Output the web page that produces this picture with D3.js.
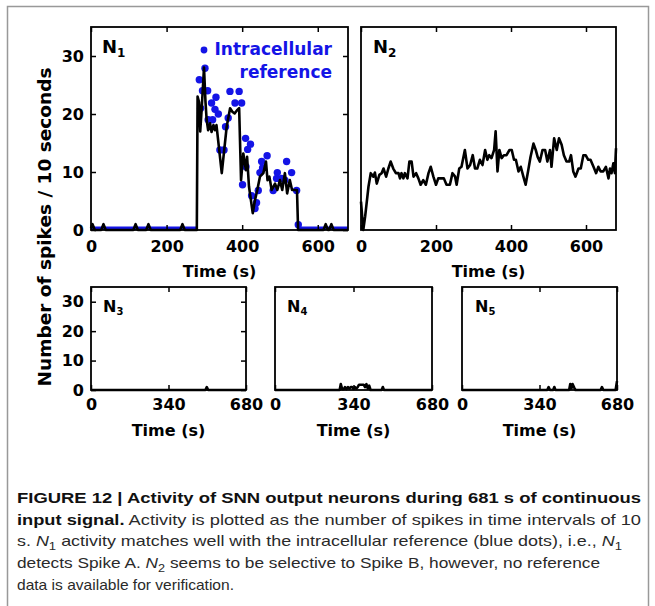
<!DOCTYPE html>
<html lang="en">

<head>
    <meta charset="UTF-8">
    <title>Figure 12 | SNN output neurons</title>
    <style>
        body {
            margin: 0;
            background: #fff;
        }

        svg {
            display: block;
        }

        .axis text {
            font: bold 16px "DejaVu Sans", sans-serif;
            fill: #000;
        }

        .axis line {
            stroke: #000;
            stroke-width: 1.5px;
        }

        .box {
            fill: none;
            stroke: #000;
            stroke-width: 1.8px;
        }

        .trace {
            fill: none;
            stroke: #000;
            stroke-width: 2.6px;
            stroke-linejoin: round;
        }

        .title {
            font: bold 16px "DejaVu Sans", sans-serif;
            text-anchor: middle;
        }

        .nlabel {
            font-family: "DejaVu Sans", sans-serif;
            font-weight: bold;
        }

        .legend {
            font: bold 17px "DejaVu Sans", sans-serif;
            fill: #1414e6;
            text-anchor: end;
        }

        .caption {
            font-family: "Liberation Sans", Arial, sans-serif;
            font-size: 15px;
            fill: #2a2a2a;
        }
    </style>
</head>

<body>
    <script src="https://d3js.org/d3.v7.min.js"></script>
    <script>
        // N1 output neuron, spikes per 10 s window
        const n1Time = [0, 4, 10, 27, 33, 39, 112, 118, 124, 146, 152, 158, 236, 242, 248, 280,
            282, 286, 289, 293, 299, 303, 306, 310, 315, 319, 324, 328, 332, 346, 359, 368, 374, 380,
            386, 392, 397, 403, 410, 413, 418, 428, 434, 440, 447, 456, 463, 467, 472, 478, 487, 493,
            500, 506, 513, 519, 526, 532, 540, 545, 548, 615, 621, 627, 630, 636, 642, 680];
        const n1Count = [0.3, 1, 0, 0, 1, 0, 0, 1, 0, 0, 1, 0, 0, 1, 0, 0,
            23, 22, 17, 21, 28, 22, 19, 17.2, 18.4, 16.9, 18.1, 17.2, 18.1, 9.8, 17.8, 21, 20.4, 20.1,
            20.6, 21, 8.6, 13.2, 10.3, 12.6, 7.5, 2.9, 5.2, 6.9, 9.2, 9.8, 11.8, 8.6, 9.2, 6.9, 8, 6.9,
            8.6, 6.9, 9.8, 6.3, 8.6, 6.9, 6.9, 6.9, 0, 0, 1, 0, 0, 1, 0, 0];

        // intracellular reference (blue dots)
        const refTime = [286.6, 290, 295, 301.6, 308.6, 310, 319, 321.8, 328, 330.7, 336.9, 341,
            351.9, 356, 363, 367.7, 381, 392, 398.6, 401, 409, 410, 414.5, 422, 425, 434, 438, 442.6,
            447, 451.5, 454, 466, 482, 491, 493, 504, 513, 517.6, 530.8, 544, 548.5];
        const refCount = [25.9, 21, 24, 27.9, 24, 19, 21.9, 19, 20.8, 22.9, 20, 13.8,
            13.8, 17.8, 19.3, 23.9, 21.9, 23.9, 21.9, 7.8, 15.8, 10.9, 13.9, 14.8, 5.9, 3.7, 4.7, 6.8,
            9.9, 11.8, 10.7, 12.8, 6.8, 8.9, 9.9, 8.9, 8.6, 11.8, 9.9, 6.8, 0.9];
        // stretches where the reference sits at zero
        const refZeroSpans = [[0, 283], [550, 680]];

        // N2
        const n2Time = [0, 6, 11, 20, 26, 33, 37, 42, 49, 55, 60, 67, 73, 79, 86, 93, 100, 104, 108,
            113, 117, 124, 129, 135, 140, 147, 153, 159, 166, 173, 180, 186, 193, 200, 206, 215, 221,
            228, 237, 244, 251, 255, 262, 268, 277, 284, 291, 298, 304, 310, 317, 324, 331, 337, 342,
            348, 355, 359, 364, 369, 375, 381, 388, 396, 402, 408, 413, 420, 426, 433, 439, 446, 452,
            460, 466, 471, 477, 484, 491, 497, 504, 508, 515, 522, 528, 535, 541, 548, 555, 560, 566,
            572, 580, 586, 593, 599, 606, 612, 620, 627, 633, 639, 646, 653, 660, 664, 668, 673, 677, 680];
        const n2Count = [4.9, 0, 2.3, 7.5, 9.8, 9.2, 9.9, 8, 9.5, 9.8, 10.6, 9.2, 10.6, 11.8, 10.6, 9.8,
            9.8, 8.9, 9.8, 8.9, 9.8, 8.9, 11.8, 11.8, 9.2, 9.8, 8.9, 7.8, 8.6, 7.8, 9.8, 10.9, 9.2, 7.8,
            8.9, 8.9, 8.9, 7.8, 7.8, 9.8, 9.2, 7.8, 10.6, 10.9, 13.8, 10.6, 11.2, 12.9, 10.6, 10.6, 12.1,
            11.2, 13.8, 12.1, 12.9, 12.4, 13.8, 17, 10.1, 13.8, 12.4, 12.9, 12.9, 13.8, 13.8, 12.1, 12.1,
            10.1, 10.9, 9.2, 7.8, 10.3, 12.6, 14.9, 13.8, 12.6, 11.8, 13.8, 13.8, 11.8, 13.8, 10.9, 15.8,
            13.8, 15.8, 14.7, 12.9, 11.8, 11.8, 12.9, 10.1, 9.2, 10.6, 10.6, 12.9, 12.9, 12.1, 12.1, 10.9,
            9.8, 10.9, 10.1, 10.1, 10.9, 8.9, 10.6, 9.8, 11.5, 9.8, 14.1];

        // N3, N4, N5 (almost silent)
        const n3Time = [0, 502, 508, 514, 680];
        const n3Count = [0, 0, 1, 0, 0];
        const n4Time = [0, 280, 285, 291, 298, 303, 309, 316, 322, 328, 334, 340, 346, 352, 358, 364,
            384, 390, 396, 402, 408, 414, 462, 467, 472, 680];
        const n4Count = [0, 0, 2, 0.3, 0.3, 1, 0.3, 1, 0.5, 1, 1, 0.4, 1, 0.5, 1, 1.8,
            1.8, 1, 2, 0.5, 1.5, 0, 0, 1, 0, 0];
        const n5Time = [0, 374, 380, 386, 400, 405, 410, 470, 475, 480, 485, 492, 498, 608, 614, 620, 674, 680];
        const n5Count = [0, 0, 1, 0, 0, 1, 0, 0, 2, 0.5, 2, 0.8, 0, 0, 1, 0, 0, 3];

        const timeTicksTop = [0, 200, 400, 600];
        const timeTicksBottom = [0, 340, 680];
        const countTicks = [0, 10, 20, 30];

        const width = 655;
        const height = 606;
        const blue = "#1414e6";

        const svg = d3.select("body").append("svg")
            .attr("width", width)
            .attr("height", height);

        svg.append("rect")
            .attr("width", width)
            .attr("height", height)
            .attr("fill", "#fff");

        // figure frame
        svg.append("rect")
            .attr("x", 7.5)
            .attr("y", 6.5)
            .attr("width", 641)
            .attr("height", 700)
            .attr("fill", "none")
            .attr("stroke", "#999")
            .attr("stroke-width", 1.5);

        const panels = [
            { n: "1", left: 91, right: 348, top: 27, bottom: 230, time: n1Time, count: n1Count,
              xTicks: timeTicksTop, yLabels: true, yTicks: true, size: 18, lx: 102, ly: 53 },
            { n: "2", left: 361, right: 616, top: 27, bottom: 230, time: n2Time, count: n2Count,
              xTicks: timeTicksTop, yLabels: false, yTicks: false, size: 18, lx: 373, ly: 53 },
            { n: "3", left: 91, right: 246, top: 287, bottom: 390, time: n3Time, count: n3Count,
              xTicks: timeTicksBottom, yLabels: true, yTicks: true, size: 16, lx: 103, ly: 312 },
            { n: "4", left: 275, right: 432, top: 287, bottom: 390, time: n4Time, count: n4Count,
              xTicks: timeTicksBottom, yLabels: false, yTicks: false, size: 16, lx: 287, ly: 312 },
            { n: "5", left: 462, right: 617, top: 287, bottom: 390, time: n5Time, count: n5Count,
              xTicks: timeTicksBottom, yLabels: false, yTicks: false, size: 16, lx: 475, ly: 312 }
        ];

        panels.forEach(p => {
            const x = d3.scaleLinear().domain([0, 680]).range([p.left, p.right]);
            const y = d3.scaleLinear().domain([0, 35]).range([p.bottom, p.top]);
            const g = svg.append("g");

            if (p.n === "1") {
                // reference at zero shows as a blue strip on the baseline
                g.selectAll(".ref-zero")
                    .data(refZeroSpans)
                    .join("line")
                    .attr("x1", d => x(d[0]))
                    .attr("x2", d => x(d[1]))
                    .attr("y1", y(0) - 1.8)
                    .attr("y2", y(0) - 1.8)
                    .attr("stroke", blue)
                    .attr("stroke-width", 3.6);

                g.selectAll(".ref")
                    .data(d3.zip(refTime, refCount))
                    .join("circle")
                    .attr("cx", d => x(d[0]))
                    .attr("cy", d => y(d[1]))
                    .attr("r", 3.7)
                    .attr("fill", blue);
            }

            g.append("path")
                .datum(d3.zip(p.time, p.count))
                .attr("class", "trace")
                .attr("d", d3.line().x(d => x(d[0])).y(d => y(d[1])));

            const bottomAxis = g.append("g")
                .attr("class", "axis")
                .attr("transform", `translate(0,${p.bottom})`)
                .call(d3.axisBottom(x).tickValues(p.xTicks).tickSize(-5).tickPadding(p.size === 18 ? 11 : 9));
            bottomAxis.select(".domain").remove();

            const topAxis = g.append("g")
                .attr("class", "axis")
                .attr("transform", `translate(0,${p.top})`)
                .call(d3.axisTop(x).tickValues(p.xTicks).tickSize(-5).tickFormat(""));
            topAxis.select(".domain").remove();

            if (p.yTicks) {
                const leftAxis = g.append("g")
                    .attr("class", "axis")
                    .attr("transform", `translate(${p.left},0)`)
                    .call(d3.axisLeft(y).tickValues(countTicks).tickSize(-5).tickPadding(7));
                leftAxis.select(".domain").remove();

                const rightAxis = g.append("g")
                    .attr("class", "axis")
                    .attr("transform", `translate(${p.right},0)`)
                    .call(d3.axisRight(y).tickValues(countTicks).tickSize(-5).tickFormat(""));
                rightAxis.select(".domain").remove();
            }

            g.append("rect")
                .attr("class", "box")
                .attr("x", p.left)
                .attr("y", p.top)
                .attr("width", p.right - p.left)
                .attr("height", p.bottom - p.top);

            const label = g.append("text")
                .attr("class", "nlabel")
                .attr("x", p.lx)
                .attr("y", p.ly)
                .style("font-size", p.size + "px")
                .text("N");
            label.append("tspan")
                .attr("dy", p.size * 0.2)
                .style("font-size", Math.round(p.size * 0.65) + "px")
                .text(p.n);

            g.append("text")
                .attr("class", "title")
                .attr("x", (p.left + p.right) / 2)
                .attr("y", p.bottom + (p.size === 18 ? 47 : 46))
                .text("Time (s)");
        });

        // y axis title shared by all panels
        svg.append("text")
            .attr("transform", "translate(51,227) rotate(-90)")
            .attr("text-anchor", "middle")
            .style("font", "bold 18.5px 'DejaVu Sans', sans-serif")
            .text("Number of spikes / 10 seconds");

        // legend
        svg.append("circle")
            .attr("cx", 204)
            .attr("cy", 50)
            .attr("r", 3.4)
            .attr("fill", blue);
        svg.append("text").attr("class", "legend").attr("x", 332).attr("y", 55).text("Intracellular");
        svg.append("text").attr("class", "legend").attr("x", 332).attr("y", 78).text("reference");

        // caption
        const captionLines = [
            [["FIGURE 12 | Activity of SNN output neurons during 681 s of continuous", "b"]],
            [["input signal.", "b"], [" Activity is plotted as the number of spikes in time intervals of 10", ""]],
            [["s. ", ""], ["N", "i"], ["1", "s"], [" activity matches well with the intracellular reference (blue dots), i.e., ", ""], ["N", "i"], ["1", "s"]],
            [["detects Spike A. ", ""], ["N", "i"], ["2", "s"], [" seems to be selective to Spike B, however, no reference", ""]],
            [["data is available for verification.", ""]]
        ];
        const captionEnds = [641, 641, 622, 600, 234];

        captionLines.forEach((segs, i) => {
            const t = svg.append("text")
                .attr("class", "caption")
                .attr("x", 17)
                .attr("y", 503 + i * 21.7)
                .attr("textLength", captionEnds[i] - 17)
                .attr("lengthAdjust", "spacingAndGlyphs");
            let shifted = false;
            segs.forEach(([txt, kind]) => {
                const s = t.append("tspan").text(txt);
                if (kind === "b") s.attr("font-weight", "bold").attr("fill", "#111");
                if (kind === "i") s.attr("font-style", "italic");
                if (kind === "s") {
                    s.attr("dy", 4).attr("font-size", 11);
                    shifted = true;
                } else if (shifted) {
                    s.attr("dy", -4);
                    shifted = false;
                }
            });
        });
    </script>
</body>

</html>
